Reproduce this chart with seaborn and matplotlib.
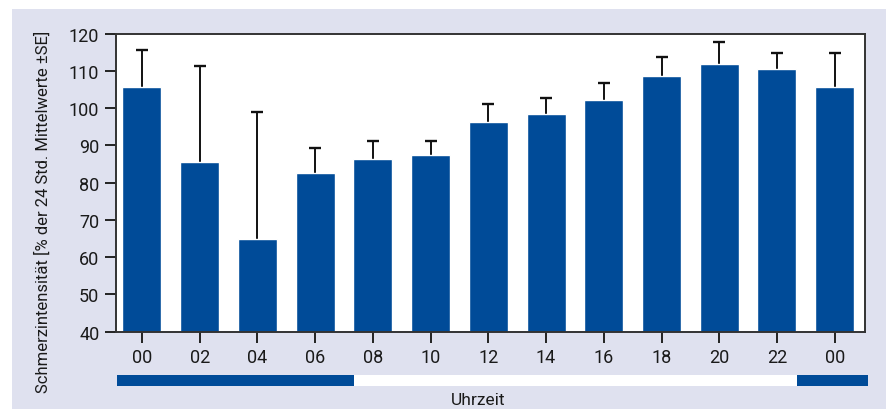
import matplotlib
matplotlib.use("Agg")
import matplotlib.pyplot as plt
from matplotlib.patches import Rectangle
import numpy as np
import pandas as pd
import seaborn as sns

# Mean pain intensity per 2-hour slot (% of 24 h mean) and standard error
hour_labels = ["00", "02", "04", "06", "08", "10", "12", "14", "16", "18", "20", "22", "00"]
mean_values = [105.7, 85.5, 64.8, 82.5, 86.3, 87.4, 96.2, 98.4, 102.2, 108.6, 111.8, 110.5, 105.7]
se_values = [10.0, 25.8, 34.3, 6.7, 4.8, 3.7, 4.9, 4.3, 4.6, 5.2, 6.0, 4.2, 9.2]

# Night (dark) and day (white) segments of the time bar, in slot units
night_spans = [(-0.44, 3.67), (11.35, 12.57)]
day_spans = [(3.67, 11.35)]

bar_color = "#004B98"
panel_color = "#DFE1EF"
W, H = 887, 410

sns.set_theme(style="white")
plt.rcParams["font.family"] = ["Roboto", "DejaVu Sans"]

fig = plt.figure(figsize=(W / 100, H / 100), dpi=100)
fig.patch.set_facecolor("white")
fig.add_artist(Rectangle((12 / W, 0), 1 - 12 / W, 1 - 10 / H, transform=fig.transFigure,
                         facecolor=panel_color, edgecolor="none", zorder=0))

ax = fig.add_axes([116 / W, (H - 332.7) / H, 749 / W, 298 / H])
ax.set_facecolor("white")

df = pd.DataFrame({"slot": np.arange(len(mean_values)), "value": mean_values})
sns.barplot(data=df, x="slot", y="value", color=bar_color, saturation=1,
            width=0.676, ax=ax, errorbar=None, zorder=2)

# Upper-only error bars (+SE); the lower cap is hidden
eb = ax.errorbar(df["slot"], df["value"], yerr=[np.zeros(len(se_values)), se_values],
                 fmt="none", ecolor="#111111", elinewidth=1.4, capsize=4.6, capthick=1.7, zorder=1)
caps = eb.lines[1]
if len(caps) == 2:
    caps[0].set_visible(False)

ax.set_ylim(40, 120)
ax.set_yticks(np.arange(40, 121, 10))
ax.set_xlim(-0.45, 12.525)
ax.set_xticks(np.arange(len(hour_labels)))
ax.set_xticklabels(hour_labels)
ax.set_xlabel("")
ax.set_ylabel("Schmerzintensität [% der 24 Std. Mittelwerte ±SE]", fontsize=12,
              color="#1a1a1a", va="center", ha="center")
ax.yaxis.set_label_coords(-0.0975, 0.405)

for side in ax.spines.values():
    side.set_visible(True)
    side.set_color("#333333")
    side.set_linewidth(1.4)
ax.tick_params(axis="both", which="major", direction="out", length=8, width=1.4,
               color="#222222", labelsize=13, labelcolor="#1a1a1a", pad=4, left=True, bottom=True)

# Day/night time bar below the axis
tax = fig.add_axes([116 / W, (H - 387) / H, 749 / W, 11 / H])
tax.set_xlim(ax.get_xlim())
tax.set_ylim(0, 1)
tax.axis("off")
for a, b in night_spans:
    tax.add_patch(Rectangle((a, 0), b - a, 1, facecolor=bar_color, edgecolor="none", clip_on=False))
for a, b in day_spans:
    tax.add_patch(Rectangle((a, 0), b - a, 1, facecolor="white", edgecolor="none", clip_on=False))

fig.text(478 / W, 1 - 401 / H, "Uhrzeit", ha="center", va="center", fontsize=12.5, color="#1a1a1a")

fig.savefig("out.png", dpi=100)
